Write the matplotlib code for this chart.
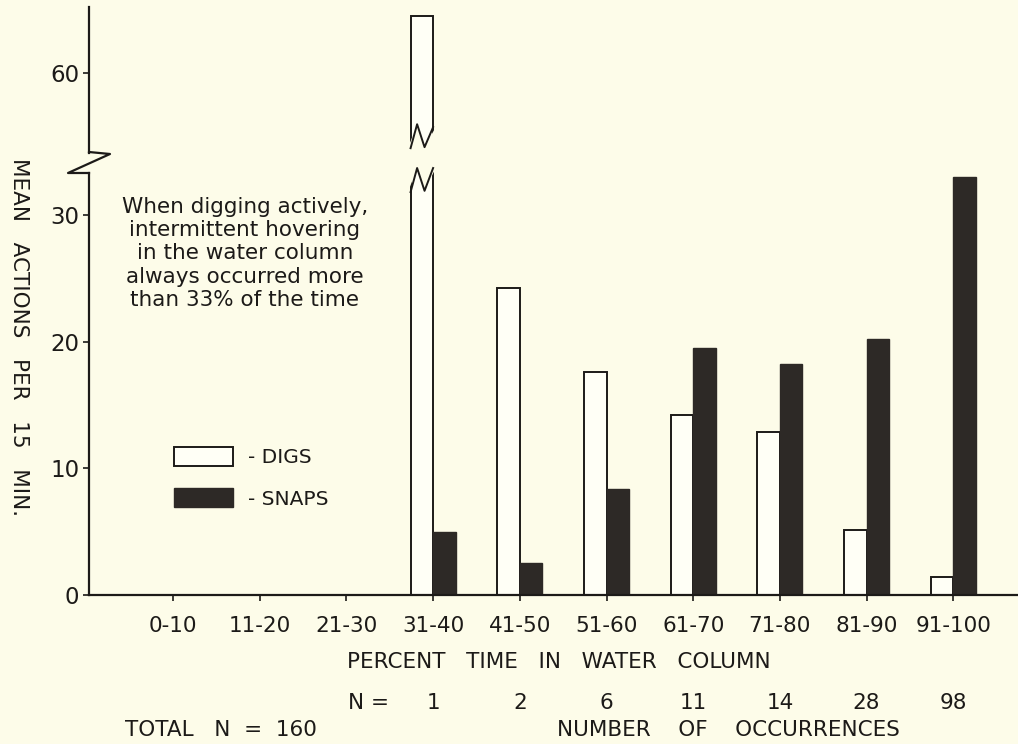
import matplotlib
matplotlib.use("Agg")
import matplotlib.pyplot as plt
from matplotlib.lines import Line2D
from matplotlib.patches import Polygon

# data
categories = ["0-10", "11-20", "21-30", "31-40", "41-50", "51-60", "61-70", "71-80", "81-90", "91-100"]
digs = [0, 0, 0, 64.5, 24.2, 17.6, 14.2, 12.9, 5.1, 1.4]
snaps = [0, 0, 0, 5.0, 2.5, 8.4, 19.5, 18.2, 20.2, 33.0]
n_occ = [None, None, None, 1, 2, 6, 11, 14, 28, 98]
total_n = 160

BG = "#fdfce9"
INK = "#1c1a18"
DARK = "#2d2926"
W, H = 1018, 744
PX_PER_UNIT = 12.67
BAR_W = 0.26


def fx(px):
    return px / W


def fy(py):
    return 1 - py / H


plt.rcParams["font.family"] = ["DejaVu Sans"]
plt.rcParams["text.color"] = INK

fig = plt.figure(figsize=(W / 100, H / 100), dpi=100, facecolor=BG)
lo = fig.add_axes([fx(89), fy(595), (W - 89) / W, (595 - 168) / H])
hi = fig.add_axes([fx(89), fy(153), (W - 89) / W, (153 - 7) / H], sharex=lo)

x = list(range(len(categories)))
lo.set_ylim(0, 427 / PX_PER_UNIT)
hi.set_ylim(53.7, 53.7 + 146 / PX_PER_UNIT)
lo.set_xlim(-0.969, 9.746)

for ax in (lo, hi):
    ax.set_facecolor("none")
    ax.bar([i - BAR_W / 2 for i in x], digs, width=BAR_W, facecolor="#fffff6",
           edgecolor=INK, linewidth=1.4, label="- DIGS")
    ax.bar([i + BAR_W / 2 for i in x], snaps, width=BAR_W, facecolor=DARK,
           edgecolor=DARK, linewidth=1.0, label="- SNAPS")
    for s in ("top", "right"):
        ax.spines[s].set_visible(False)
    ax.spines["left"].set_color(INK)
    ax.spines["left"].set_linewidth(1.6)
    ax.tick_params(axis="y", direction="out", length=4, width=1.2, colors=INK,
                   labelsize=16.5, pad=3)

hi.spines["bottom"].set_visible(False)
hi.tick_params(axis="x", bottom=False, labelbottom=False)
hi.set_yticks([60])
lo.set_yticks([0, 10, 20, 30])
lo.spines["left"].set_bounds(0, 33.3)
lo.spines["bottom"].set_color(INK)
lo.spines["bottom"].set_linewidth(1.6)
lo.set_xticks(x)
lo.set_xticklabels(categories)
lo.tick_params(axis="x", direction="out", length=4, width=1.2, colors=INK,
               labelsize=15.5, pad=11)

# break marks on the tall digs bar
big = digs.index(max(digs))
x0 = big - BAR_W
fr = [0.0, 0.29, 0.62, 1.0]
m_y = [31.8, 33.7, 31.9, 33.7]
w_y = [54.08, 55.97, 54.16, 55.74]
e = 0.03
lo.add_patch(Polygon([(x0 - e, m_y[0])] + [(x0 + f * BAR_W, v) for f, v in zip(fr[1:3], m_y[1:3])]
                     + [(x0 + BAR_W + e, m_y[3]), (x0 + BAR_W + e, 36), (x0 - e, 36)],
                     closed=True, facecolor=BG, edgecolor="none", zorder=3))
lo.plot([x0 + f * BAR_W for f in fr], m_y, color=INK, lw=1.4, clip_on=False, zorder=4)
hi.add_patch(Polygon([(x0 - e, w_y[0])] + [(x0 + f * BAR_W, v) for f, v in zip(fr[1:3], w_y[1:3])]
                     + [(x0 + BAR_W + e, w_y[3]), (x0 + BAR_W + e, 52), (x0 - e, 52)],
                     closed=True, facecolor=BG, edgecolor="none", zorder=3))
hi.plot([x0 + f * BAR_W for f in fr], w_y, color=INK, lw=1.4, clip_on=False, zorder=4)

# zigzag on the y axis
fig.add_artist(Line2D([fx(89), fx(110), fx(68), fx(89)], [fy(152), fy(154), fy(173), fy(173)],
                      transform=fig.transFigure, color=INK, lw=1.6))

lo.legend(loc="upper left", bbox_to_anchor=(fx(174), fy(447)), bbox_transform=fig.transFigure,
          frameon=False, fontsize=14.5, handlelength=2.95, handleheight=1.05,
          handletextpad=0.7, labelspacing=1.05, borderpad=0, borderaxespad=0)

fig.text(fx(245), fy(197), "When digging actively,\nintermittent hovering\nin the water column\n"
         "always occurred more\nthan 33% of the time", ha="center", va="top", fontsize=15.5,
         linespacing=1.2, multialignment="center")

fig.text(fx(19), fy(337), "MEAN   ACTIONS   PER   15   MIN.", rotation=270, ha="center",
         va="center", fontsize=15.5)
fig.text(fx(559), fy(662), "PERCENT   TIME   IN   WATER   COLUMN", ha="center", va="center",
         fontsize=15.5)

lbl = lo.get_xaxis_transform()
ny = -(703 - 595) / 427
lo.text(2.25, ny, "N =", transform=lbl, ha="center", va="center", fontsize=15.5)
for i, n in zip(x, n_occ):
    if n is not None:
        lo.text(i, ny, str(n), transform=lbl, ha="center", va="center", fontsize=15.5)
fig.text(fx(221), fy(730), f"TOTAL   N  =  {total_n}", ha="center", va="center", fontsize=15.5)
fig.text(fx(728), fy(730), "NUMBER    OF    OCCURRENCES", ha="center", va="center",
         fontsize=15.5)

fig.savefig("out.png", dpi=100, facecolor=BG)
